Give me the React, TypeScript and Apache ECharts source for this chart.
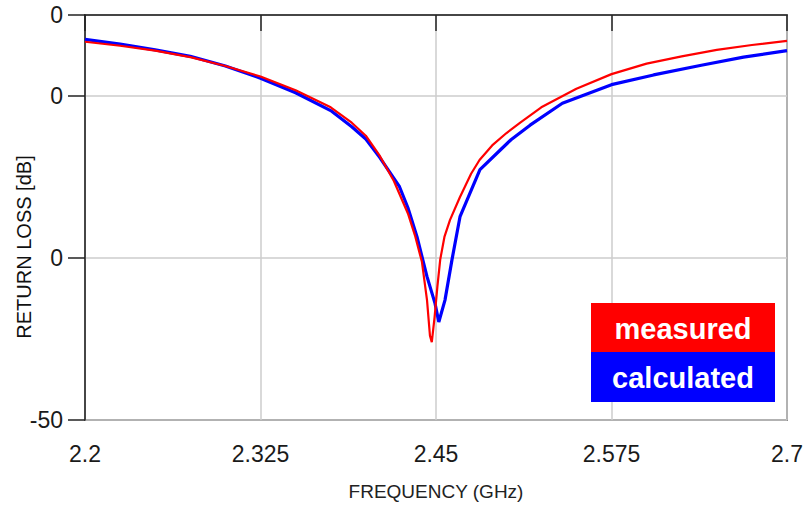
import React, { useEffect, useRef } from "react";
import * as echarts from "echarts";

const xTicks = [2.2, 2.325, 2.45, 2.575, 2.7];
const xTickLabels = ["2.2", "2.325", "2.45", "2.575", "2.7"];
const yTicks = [0, -10, -30, -50];
const yTickLabels = ["0", "0", "0", "-50"];

const measuredFreq = [
  2.2, 2.225, 2.25, 2.275, 2.3, 2.325, 2.35, 2.375, 2.39, 2.4, 2.41, 2.42, 2.43, 2.435, 2.44,
  2.4436, 2.4457, 2.447, 2.449, 2.451, 2.453, 2.456, 2.46, 2.467, 2.475, 2.481, 2.49, 2.5,
  2.51, 2.525, 2.55, 2.575, 2.6, 2.625, 2.65, 2.675, 2.7,
];
const measuredDb = [
  -3.3, -3.8, -4.4, -5.2, -6.3, -7.6, -9.3, -11.4, -13.3, -14.9, -17.4, -20.5, -24.5, -27.2, -30.5,
  -35.2, -39.6, -40.4, -37.3, -33.5, -30.2, -27.4, -25.3, -22.5, -19.6, -17.9, -16.1, -14.6,
  -13.3, -11.4, -9.1, -7.3, -6.0, -5.1, -4.3, -3.7, -3.2,
];

const calculatedFreq = [
  2.2, 2.225, 2.25, 2.275, 2.3, 2.325, 2.35, 2.375, 2.39, 2.4, 2.41, 2.424, 2.43, 2.4365, 2.4436,
  2.4493, 2.452, 2.4564, 2.4614, 2.4671, 2.4742, 2.4813, 2.4956, 2.5034, 2.517, 2.54, 2.575,
  2.605, 2.639, 2.669, 2.7,
];
const calculatedDb = [
  -3.0, -3.6, -4.3, -5.1, -6.3, -7.8, -9.6, -11.8, -13.8, -15.3, -17.6, -21.2, -23.8, -27.4, -32.3,
  -35.6, -37.9, -35.2, -30.2, -24.9, -22.0, -19.1, -16.7, -15.4, -13.6, -10.9, -8.6,
  -7.4, -6.2, -5.2, -4.4,
];

const legendNames = ["measured", "calculated"];
const legendColors = ["#ff0000", "#0000ff"];
const xTitle = "FREQUENCY (GHz)";
const yTitle = "RETURN LOSS [dB]";

const FONT = "'Liberation Sans', Arial, sans-serif";

export default function App() {
  const ref = useRef<HTMLDivElement>(null);

  useEffect(() => {
    if (!ref.current) return;
    const chart = echarts.init(ref.current, null, { renderer: "svg" });
    const measured = measuredFreq.map((f, i) => [f, measuredDb[i]]);
    const calculated = calculatedFreq.map((f, i) => [f, calculatedDb[i]]);

    chart.setOption({
      animation: false,
      backgroundColor: "#ffffff",
      grid: {
        left: 85,
        right: 16,
        top: 15,
        bottom: 87,
        containLabel: false,
        outerBoundsMode: "none",
        show: true,
        borderColor: "#333333",
        borderWidth: 1.5,
      },
      xAxis: {
        type: "value",
        min: 2.2,
        max: 2.7,
        name: xTitle,
        nameLocation: "middle",
        nameGap: 62,
        nameTextStyle: { fontFamily: FONT, fontSize: 19, color: "#222" },
        axisLine: { show: true, lineStyle: { color: "#222", width: 1.5 } },
        axisTick: {
          show: true,
          length: 16,
          customValues: xTicks,
          lineStyle: { color: "#222", width: 1.5 },
        },
        axisLabel: {
          customValues: xTicks,
          margin: 22,
          fontFamily: FONT,
          fontSize: 23,
          color: "#1a1a1a",
          formatter: (v: number) => {
            const i = xTicks.findIndex((t) => Math.abs(t - v) < 1e-6);
            return i >= 0 ? xTickLabels[i] : "";
          },
        },
        splitLine: { show: true, lineStyle: { color: "#cccccc", width: 1.5 } },
      },
      yAxis: {
        type: "value",
        min: -50,
        max: 0,
        axisLine: { show: true, lineStyle: { color: "#222", width: 1.5 } },
        axisTick: {
          show: true,
          length: 17,
          customValues: yTicks,
          lineStyle: { color: "#222", width: 1.5 },
        },
        axisLabel: {
          customValues: yTicks,
          margin: 22,
          fontFamily: FONT,
          fontSize: 23,
          color: "#1a1a1a",
          formatter: (v: number) => {
            const i = yTicks.findIndex((t) => Math.abs(t - v) < 1e-6);
            return i >= 0 ? yTickLabels[i] : "";
          },
        },
        splitLine: { show: true, lineStyle: { color: "#cccccc", width: 1.5 } },
      },
      series: [
        {
          name: legendNames[1],
          type: "line",
          data: calculated,
          showSymbol: false,
          smooth: false,
          lineStyle: { color: legendColors[1], width: 3.2 },
          z: 2,
        },
        {
          name: legendNames[0],
          type: "line",
          data: measured,
          showSymbol: false,
          smooth: false,
          lineStyle: { color: legendColors[0], width: 2.2 },
          z: 3,
        },
      ],
      graphic: [
        {
          type: "text",
          x: 24,
          y: 247,
          rotation: Math.PI / 2,
          style: {
            text: yTitle,
            fill: "#111",
            font: `20px ${FONT}`,
            align: "center",
            verticalAlign: "middle",
          },
        },
        {
          type: "rect",
          left: 591,
          top: 303,
          shape: { width: 184, height: 49 },
          style: { fill: legendColors[0] },
          z: 10,
        },
        {
          type: "rect",
          left: 591,
          top: 352,
          shape: { width: 184, height: 50 },
          style: { fill: legendColors[1] },
          z: 10,
        },
        {
          type: "text",
          x: 683,
          y: 329,
          style: {
            text: legendNames[0],
            fill: "#ffffff",
            font: `bold 29px ${FONT}`,
            align: "center",
            verticalAlign: "middle",
          },
          z: 11,
        },
        {
          type: "text",
          x: 683,
          y: 378,
          style: {
            text: legendNames[1],
            fill: "#ffffff",
            font: `bold 29px ${FONT}`,
            align: "center",
            verticalAlign: "middle",
          },
          z: 11,
        },
      ],
    });

    return () => chart.dispose();
  }, []);

  return <div ref={ref} style={{ width: 803, height: 507, position: "absolute", left: 0, top: 0 }} />;
}
